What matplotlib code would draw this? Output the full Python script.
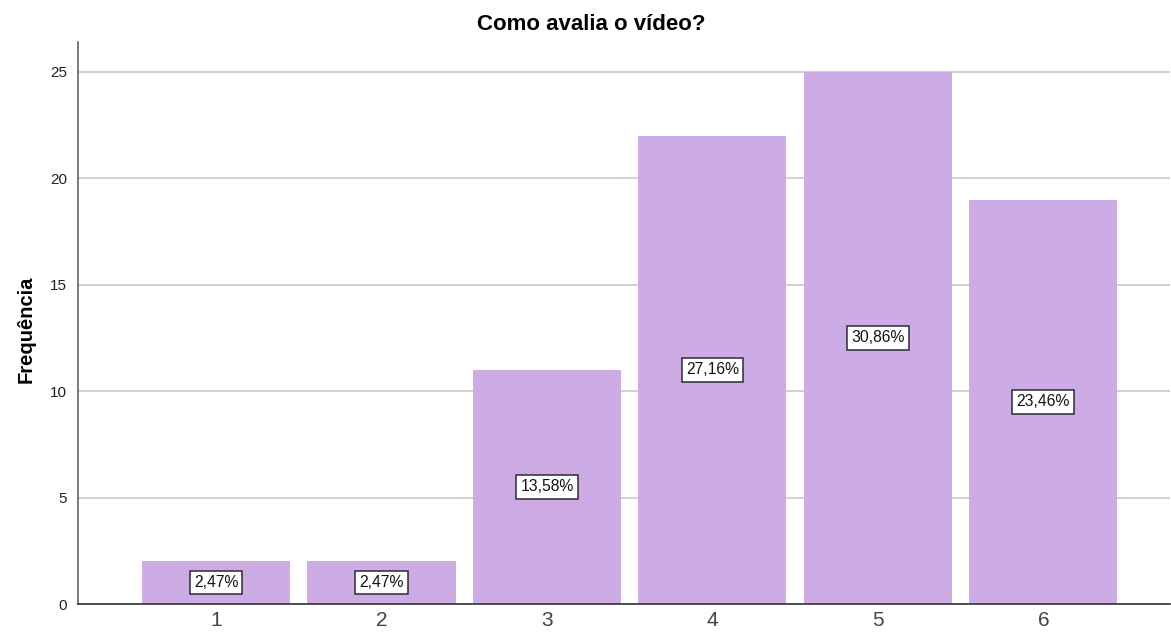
import matplotlib
matplotlib.use("Agg")
import matplotlib.pyplot as plt

categories = ["1", "2", "3", "4", "5", "6"]
counts = [2, 2, 11, 22, 25, 19]
percent_labels = ["2,47%", "2,47%", "13,58%", "27,16%", "30,86%", "23,46%"]
y_ticks = [0, 5, 10, 15, 20, 25]

plt.rcParams['font.family'] = ['Arial', 'Liberation Sans', 'DejaVu Sans']

fig = plt.figure(figsize=(11.71, 6.37), dpi=100)
ax = fig.add_axes([0.0666, 0.0518, 0.9324, 0.8822])

x = list(range(1, len(categories) + 1))
ax.set_axisbelow(True)
ax.yaxis.grid(True, color='#c8c8c8', linewidth=1.2)
ax.bar(x, counts, width=0.895, color='#CDABE4', edgecolor='none', zorder=2)

for xi, c, lab in zip(x, counts, percent_labels):
    ax.text(xi, c / 2, lab, ha='center', va='center', fontsize=11.3, color='#111111', zorder=3,
            bbox=dict(boxstyle='square,pad=0.27', facecolor='white', edgecolor='#2a2a3a', linewidth=1.1))

ax.set_xlim(0.166, 6.764)
ax.set_ylim(0, 26.4)
ax.set_xticks(x)
ax.set_xticklabels(categories, fontsize=15, color='#444444')
ax.set_yticks(y_ticks)
ax.set_yticklabels([str(t) for t in y_ticks], fontsize=11, color='#222222')
ax.tick_params(axis='both', length=0)
ax.tick_params(axis='x', pad=5)
ax.tick_params(axis='y', pad=8)

for s in ['top', 'right']:
    ax.spines[s].set_visible(False)
ax.spines['left'].set_color('#666666')
ax.spines['left'].set_linewidth(1.2)
ax.spines['bottom'].set_color('#333333')
ax.spines['bottom'].set_linewidth(1.2)

fig.text(0.022, 0.483, 'Frequência', rotation=90, ha='center', va='center', fontsize=14.5, fontweight='bold')
fig.text(0.505, 0.962, 'Como avalia o vídeo?', ha='center', va='center', fontsize=16, fontweight='bold')

fig.savefig('out.png', dpi=100)
